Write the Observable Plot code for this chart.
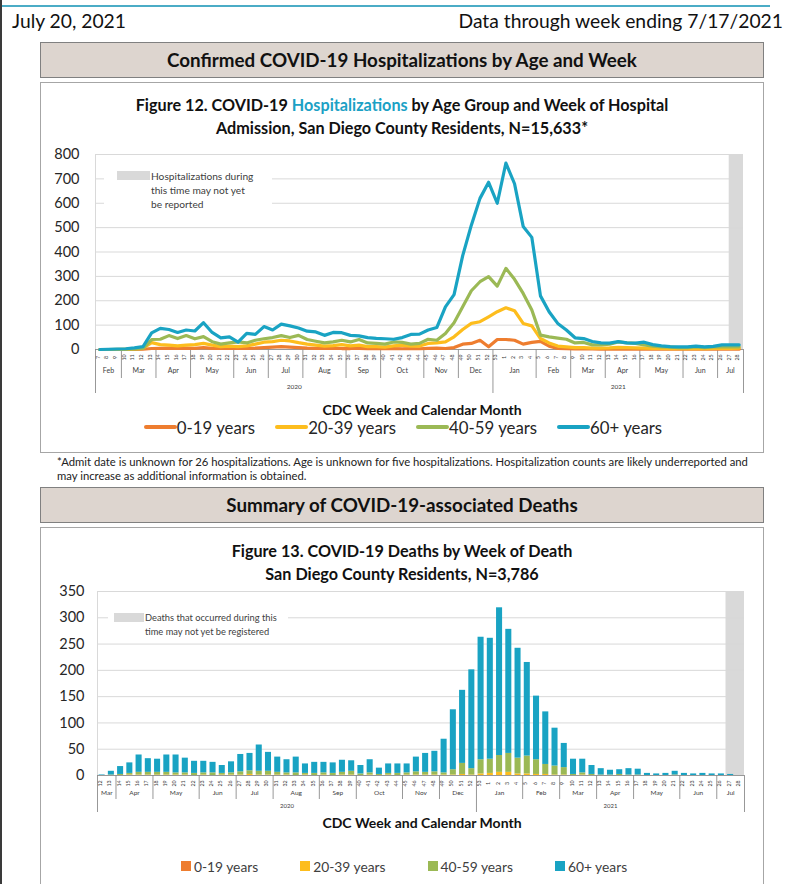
<!DOCTYPE html>
<html><head><meta charset="utf-8">
<script src="https://cdn.jsdelivr.net/npm/d3@7"></script>
<script src="https://cdn.jsdelivr.net/npm/@observablehq/plot@0.6"></script>
<style>
body{margin:0;background:#fff;}
#page{position:relative;width:794px;height:884px;overflow:hidden;font-family:Lato,"Noto Sans",sans-serif;color:#000;background:#fff;}
.abs{position:absolute;}
.hdr{position:absolute;left:40px;width:722px;height:34px;background:#ddd5cf;border:1px solid #808080;text-align:center;font-weight:700;font-size:18.8px;line-height:34px;color:#111;}
.box{position:absolute;left:40px;width:722px;border:1px solid #a6a6a6;background:#fff;}
.ftitle{position:absolute;left:40px;width:724px;text-align:center;font-weight:700;font-size:16.2px;line-height:22.5px;color:#111;}
.note{position:absolute;background:#fff;font-size:9.3px;line-height:14px;color:#404040;}
.sw{position:absolute;background:#d9d9d9;}
.atitle{position:absolute;left:0;width:844px;text-align:center;font-weight:700;font-size:14px;line-height:16px;color:#111;}
.legend{position:absolute;left:0;display:flex;justify-content:center;align-items:center;}
</style></head><body>
<div id="page">
  <div class="abs" style="left:0;top:5px;width:770px;height:1.5px;background:#4bacc6"></div>
  <div class="abs" style="left:0;top:0;width:2px;height:884px;background:#3a3a3a"></div>
  <div class="abs" style="left:12px;top:10px;font-size:19.3px;line-height:21px;color:#111">July 20, 2021</div>
  <div class="abs" style="right:11px;top:10px;font-size:19.3px;line-height:21px;color:#111">Data through week ending 7/17/2021</div>

  <div class="hdr" style="top:42px">Confirmed COVID-19 Hospitalizations by Age and Week</div>
  <div class="box" style="top:82px;height:369px"></div>
  <div class="ftitle" style="top:94px">Figure 12. COVID-19 <span style="color:#1ba1c5">Hospitalizations</span> by Age Group and Week of Hospital<br>Admission, San Diego County Residents, N=15,633*</div>
  <div id="hosp" class="abs" style="left:40px;top:140px"></div>
  <div class="note" style="left:104px;top:165px;width:168px;height:47px"></div>
  <div class="sw" style="left:117px;top:171px;width:33px;height:9px"></div>
  <div class="note" style="left:151px;top:169px;background:transparent;font-size:10.2px">Hospitalizations during<br>this time may not yet<br>be reported</div>
  <div class="atitle" style="top:402px">CDC Week and Calendar Month</div>
  <div id="legend1" class="legend" style="top:417px;width:806px;height:20px;gap:20px;font-size:16.8px;color:#262626"></div>

  <div class="abs" style="left:57px;top:455px;font-size:11.3px;line-height:14px;color:#222">*Admit date is unknown for 26 hospitalizations. Age is unknown for five hospitalizations. Hospitalization counts are likely underreported and<br>may increase as additional information is obtained.</div>

  <div class="hdr" style="top:487px">Summary of COVID-19-associated Deaths</div>
  <div class="box" style="top:527px;height:380px"></div>
  <div class="ftitle" style="top:540px">Figure 13. COVID-19 Deaths by Week of Death<br>San Diego County Residents, N=3,786</div>
  <div id="deaths" class="abs" style="left:40px;top:580px"></div>
  <div class="note" style="left:108px;top:607px;width:180px;height:36px"></div>
  <div class="sw" style="left:114px;top:613px;width:30px;height:9px"></div>
  <div class="note" style="left:145px;top:611px;background:transparent">Deaths that occurred during this<br>time may not yet be registered</div>
  <div class="atitle" style="top:815px">CDC Week and Calendar Month</div>
  <div id="legend2" class="legend" style="top:856px;width:808px;height:20px;gap:42px;font-size:13.8px;color:#404040"></div>
</div>
<script>
// ---------- shared categories ----------
const ageGroups = ["0-19 years", "20-39 years", "40-59 years", "60+ years"];
const ageColors = ["#ee7d2f", "#fdbd1d", "#9bb955", "#19a3c3"];
const yearLabels = ["2020", "2021"];

// ---------- Figure 12: hospitalizations ----------
const hospWeekLabels = ["7","8","9","10","11","12","13","14","15","16","17","18","19","20","21","22","23","24","25","26","27","28","29","30","31","32","33","34","35","36","37","38","39","40","41","42","43","44","45","46","47","48","49","50","51","52","53","1","2","3","4","5","6","7","8","9","10","11","12","13","14","15","16","17","18","19","20","21","22","23","24","25","26","27","28"];
const hospMonthLabels = ["Feb","Mar","Apr","May","Jun","Jul","Aug","Sep","Oct","Nov","Dec","Jan","Feb","Mar","Apr","May","Jun","Jul"];
const hospMonthWeekCounts = [3,4,4,5,4,4,5,4,5,4,4,5,4,4,4,5,4,3];
const hospYearMonthCounts = [11, 7];
const hospYTicks = [0,100,200,300,400,500,600,700,800];
const hospPendingFrom = "27";

const hosp0_19 = [0,0,0,0,0,1,4,5,6,5,6,5,8,5,4,5,4,5,6,8,10,12,10,8,6,5,4,5,4,4,5,3,4,3,4,3,4,3,5,6,4,8,22,25,38,11,41,41,38,22,29,33,14,4,3,2,2,2,1,1,1,1,1,1,1,1,1,1,1,1,1,1,1,1,1];
const hosp20_39 = [0,0,0,1,2,5,28,20,18,15,18,20,25,18,12,14,12,15,22,30,32,38,35,28,22,18,14,16,20,15,18,12,12,10,15,18,14,14,25,27,31,52,82,107,114,134,155,171,159,107,97,45,27,14,11,8,8,6,6,7,9,8,7,6,5,4,3,3,3,4,3,4,5,5,6];
const hosp40_59 = [0,0,1,1,2,5,41,42,57,45,57,44,53,32,22,27,31,27,38,44,49,57,49,58,41,34,27,31,38,31,41,27,25,22,31,29,22,25,42,38,66,110,175,241,278,299,260,333,288,230,162,59,52,47,42,27,29,19,19,22,31,27,25,19,14,11,10,8,8,11,8,11,11,11,11];
const hosp60plus = [0,1,2,3,7,12,68,87,82,70,80,76,110,70,48,52,30,66,62,94,80,104,97,88,75,72,58,70,69,58,56,49,46,44,42,49,62,63,80,90,175,225,385,510,620,686,600,765,680,505,460,220,155,107,80,48,45,33,27,26,32,27,26,30,20,15,12,11,11,14,11,13,19,19,19];

// ---------- Figure 13: deaths ----------
const deathWeekLabels = ["12","13","14","15","16","17","18","19","20","21","22","23","24","25","26","27","28","29","30","31","32","33","34","35","36","37","38","39","40","41","42","43","44","45","46","47","48","49","50","51","52","53","1","2","3","4","5","6","7","8","9","10","11","12","13","14","15","16","17","18","19","20","21","22","23","24","25","26","27","28"];
const deathMonthLabels = ["Mar","Apr","May","Jun","Jul","Aug","Sep","Oct","Nov","Dec","Jan","Feb","Mar","Apr","May","Jun","Jul"];
const deathMonthWeekCounts = [2,4,5,4,4,5,4,5,4,4,5,4,4,4,5,4,3];
const deathYearMonthCounts = [10, 7];
const deathYTicks = [0,50,100,150,200,250,300,350];
const deathPendingFrom = "27";

const deaths0_19 = [0,0,0,0,0,0,0,0,0,0,0,0,0,0,0,0,0,0,0,0,0,0,0,0,0,0,0,0,0,0,0,0,0,0,0,0,0,0,0,0,0,0,0,0,0,0,0,0,0,0,0,0,0,0,0,0,0,0,0,0,0,0,0,0,0,0,0,0,0,0];
const deaths20_39 = [0,0,0,1,1,1,1,1,1,1,0,1,0,1,1,1,2,1,1,1,1,0,1,0,1,0,1,1,0,1,0,1,0,1,1,1,1,1,1,2,1,3,4,6,6,3,3,2,2,1,1,0,1,0,0,0,0,0,0,0,0,0,0,0,0,0,0,0,0,0];
const deaths40_59 = [0,1,2,3,5,5,5,5,4,4,4,4,5,3,4,6,7,7,7,5,4,5,3,4,4,4,5,7,3,4,2,3,4,4,6,5,6,4,10,21,12,27,27,32,36,30,34,28,19,17,14,2,4,2,1,1,2,1,1,0,0,0,1,0,0,0,0,0,0,0];
const deaths60plus = [1,7,15,20,33,26,25,33,34,28,23,22,20,15,21,33,33,50,36,29,25,30,18,21,20,20,23,20,16,25,12,18,18,17,28,36,39,64,114,139,188,233,230,281,236,209,178,121,100,72,46,29,26,17,12,9,9,12,11,4,3,4,7,4,3,4,3,3,2,0];

// ---------- helpers ----------
function groups(labels, counts) {
  let s = 0;
  return labels.map((label, k) => { const g = {label, start: s, end: s + counts[k]}; s += counts[k]; return g; });
}
function yearGroups(months, labels, counts) {
  let m = 0;
  return labels.map((label, k) => {
    const g = {label, start: months[m].start, end: months[m + counts[k] - 1].end};
    m += counts[k]; return g;
  });
}
const axisGrey = "#8c8c8c";
function categoryAxis(weeks, months, years, plotH, o) {
  const yearBounds = [...years.map(d => d.start), years[years.length - 1].end];
  const monthBounds = months.map(d => d.start).filter(b => !yearBounds.includes(b));
  return [
    Plot.ruleX(monthBounds, {x: d => d, insetTop: plotH, insetBottom: -o.monthSep, stroke: axisGrey, strokeWidth: 0.9}),
    Plot.ruleX(yearBounds, {x: d => d, insetTop: plotH, insetBottom: -o.yearSep, stroke: axisGrey, strokeWidth: 0.9}),
    Plot.ruleY([0], {stroke: axisGrey, strokeWidth: 0.9}),
    Plot.text(weeks, {x: (d, i) => i + 0.5, text: d => d, frameAnchor: "bottom", dy: o.weekDy, rotate: -90, fontSize: o.weekSize, fill: "#404040"}),
    Plot.text(months, {x: d => (d.start + d.end) / 2, text: "label", frameAnchor: "bottom", dy: o.monthDy, fontSize: o.monthSize, fill: "#404040"}),
    Plot.text(years, {x: d => (d.start + d.end) / 2, text: "label", frameAnchor: "bottom", dy: o.yearDy, fontSize: o.yearSize, fill: "#404040"})
  ];
}
function yAxis(ticks, dx, size) {
  return [
    Plot.ruleY(ticks.filter(t => t > 0), {y: d => d, stroke: "#d9d9d9", strokeWidth: 1}),
    Plot.ruleX([0], {stroke: "#d9d9d9"}),
    Plot.text(ticks, {y: d => d, text: d => String(d), frameAnchor: "left", textAnchor: "end", dx: -dx, fontSize: size, fill: "#262626"})
  ];
}
const colorScale = {domain: ageGroups, range: ageColors};

// ---------- Figure 12 ----------
{
  const months = groups(hospMonthLabels, hospMonthWeekCounts);
  const years = yearGroups(months, yearLabels, hospYearMonthCounts);
  const series = [hosp0_19, hosp20_39, hosp40_59, hosp60plus];
  const long = ageGroups.flatMap((age, k) => series[k].map((v, i) => ({age, i, v})));
  const n = hospWeekLabels.length;
  const yMax = hospYTicks[hospYTicks.length - 1];
  const mt = 14, mb = 52, H = 261;
  const chart = Plot.plot({
    width: 724, height: H,
    marginLeft: 55, marginRight: 21, marginTop: mt, marginBottom: mb,
    style: {fontFamily: "Lato, 'Noto Sans', sans-serif", background: "transparent", overflow: "visible"},
    x: {domain: [0, n], axis: null},
    y: {domain: [0, yMax], axis: null},
    color: colorScale,
    marks: [
      Plot.rect([hospWeekLabels.lastIndexOf(hospPendingFrom)], {x1: d => d, x2: n, y1: 0, y2: yMax, fill: "#d9d9d9", insetLeft: 3}),
      ...yAxis(hospYTicks, 16, 14.5),
      ...categoryAxis(hospWeekLabels, months, years, H - mt - mb, {weekDy: 8, weekSize: 5.3, monthDy: 23, monthSize: 7, yearDy: 39, yearSize: 6.5, monthSep: 29, yearSep: 44}),
      Plot.line(long, {x: d => d.i + 0.5, y: "v", z: "age", stroke: "age", strokeWidth: 3.2, strokeLinejoin: "round", strokeLinecap: "round"})
    ]
  });
  document.getElementById("hosp").appendChild(chart);
}

// ---------- Figure 13 ----------
{
  const months = groups(deathMonthLabels, deathMonthWeekCounts);
  const years = yearGroups(months, yearLabels, deathYearMonthCounts);
  const series = [deaths0_19, deaths20_39, deaths40_59, deaths60plus];
  const long = [];
  deathWeekLabels.forEach((w, i) => ageGroups.forEach((age, k) => long.push({age, i, v: series[k][i]})));
  const n = deathWeekLabels.length;
  const yMax = deathYTicks[deathYTicks.length - 1];
  const mt = 11, mb = 55, H = 250;
  const chart = Plot.plot({
    width: 724, height: H,
    marginLeft: 57, marginRight: 20, marginTop: mt, marginBottom: mb,
    style: {fontFamily: "Lato, 'Noto Sans', sans-serif", background: "transparent", overflow: "visible"},
    x: {domain: [0, n], axis: null},
    y: {domain: [0, yMax], axis: null},
    color: colorScale,
    marks: [
      Plot.rect([deathWeekLabels.lastIndexOf(deathPendingFrom)], {x1: d => d, x2: n, y1: 0, y2: yMax, fill: "#d9d9d9"}),
      ...yAxis(deathYTicks, 13, 14.5),
      Plot.rectY(long, {x: "i", interval: 1, y: "v", fill: "age", insetLeft: 1.6, insetRight: 1.6}),
      ...categoryAxis(deathWeekLabels, months, years, H - mt - mb, {weekDy: 8, weekSize: 5.3, monthDy: 19, monthSize: 6.5, yearDy: 32, yearSize: 6, monthSep: 24, yearSep: 37})
    ]
  });
  document.getElementById("deaths").appendChild(chart);
}

// ---------- legends ----------
{
  const l1 = document.getElementById("legend1");
  ageGroups.forEach((age, k) => {
    const it = document.createElement("span");
    it.style.cssText = "display:flex;align-items:center;white-space:nowrap";
    it.innerHTML = `<i style="display:inline-block;width:33px;height:3.5px;border-radius:2px;background:${ageColors[k]}"></i><span>${age}</span>`;
    l1.appendChild(it);
  });
  const l2 = document.getElementById("legend2");
  ageGroups.forEach((age, k) => {
    const it = document.createElement("span");
    it.style.cssText = "display:flex;align-items:center;white-space:nowrap;gap:3px";
    it.innerHTML = `<i style="display:inline-block;width:10px;height:10px;background:${ageColors[k]}"></i><span>${age}</span>`;
    l2.appendChild(it);
  });
}
</script>
</body></html>
